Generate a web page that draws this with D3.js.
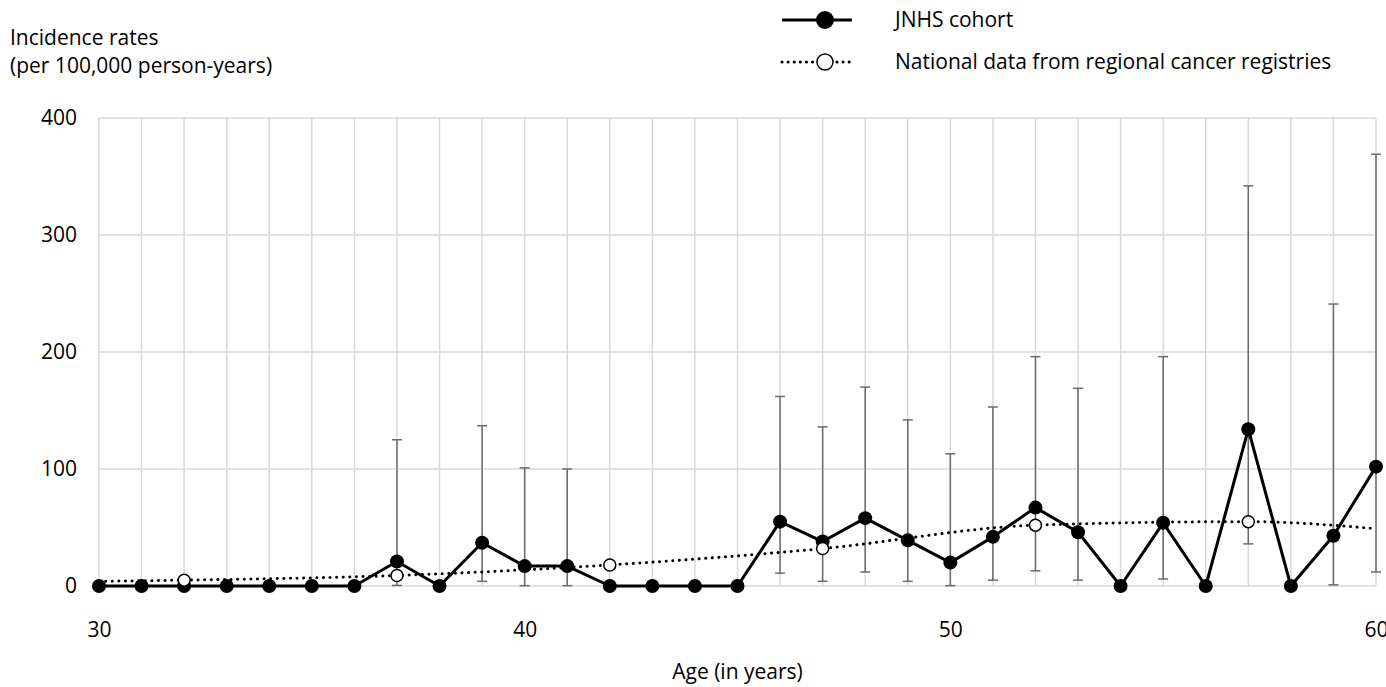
<!DOCTYPE html>
<html>
<head>
<meta charset="utf-8">
<script src="https://cdn.jsdelivr.net/npm/d3@7"></script>
<style>
  body { margin: 0; background: #fff; }
  svg { display: block; font-family: "Open Sans", "Noto Sans", sans-serif; }
</style>
</head>
<body>
<svg id="chart" width="1386" height="687"></svg>
<script>
// JNHS cohort, one point per age
const ages = d3.range(30, 61);
const jnhsRates = [0, 0, 0, 0, 0, 0, 0, 21, 0, 37, 17, 17, 0, 0, 0, 0,
                   55, 38, 58, 39, 20, 42, 67, 46, 0, 54, 0, 134, 0, 43, 102];
// 95% CI where the cohort had cases
const ciAges  = [37, 39, 40, 41, 46, 47, 48, 49, 50, 51, 52, 53, 55, 57, 59, 60];
const ciLower = [0.5, 4, 0.3, 0.3, 11, 4, 12, 4, 0.3, 5, 13, 5, 6, 36, 1, 12];
const ciUpper = [125, 137, 101, 100, 162, 136, 170, 142, 113, 153, 196, 169, 196, 342, 241, 369];
// national registry data (markers at the 5-year groups, line runs 30-60)
const natAges = [32, 37, 42, 47, 52, 57];
const natRates = [5, 9, 18, 32, 52, 55];
const natLineAges = [30, 32, 37, 42, 47, 52, 57, 60];
const natLineRates = [4, 5, 9, 18, 32, 52, 55, 49];

const yTicks = [0, 100, 200, 300, 400];
const xTicks = [30, 40, 50, 60];

const svg = d3.select('#chart');
const plotL = 99, plotR = 1376, plotT = 118, plotB = 586;
const fs = 21;

const x = d3.scaleLinear().domain([30, 60]).range([plotL, plotR]);
const y = d3.scaleLinear().domain([0, 400]).range([plotB, plotT]);

// grid
const grid = svg.append('g');
grid.selectAll('line.v').data(ages).enter().append('line')
    .attr('x1', d => x(d)).attr('x2', d => x(d))
    .attr('y1', plotT).attr('y2', plotB)
    .attr('stroke', '#d9d9d9').attr('stroke-width', 1.5);
grid.selectAll('line.h').data(yTicks).enter().append('line')
    .attr('x1', plotL).attr('x2', plotR)
    .attr('y1', d => y(d)).attr('y2', d => y(d))
    .attr('stroke', '#d9d9d9').attr('stroke-width', 1.5);

// axes labels
const yAxis = svg.append('g').attr('transform', `translate(${plotL - 22},0)`)
    .call(d3.axisLeft(y).tickValues(yTicks).tickSize(0).tickPadding(0));
yAxis.select('.domain').remove();
yAxis.selectAll('text').attr('font-size', fs).attr('fill', '#000')
    .attr('font-family', '"Open Sans", sans-serif');

const xAxis = svg.append('g').attr('transform', `translate(0,${plotB + 36})`)
    .call(d3.axisBottom(x).tickValues(xTicks).tickSize(0).tickPadding(0));
xAxis.select('.domain').remove();
xAxis.selectAll('text').attr('font-size', fs).attr('fill', '#000')
    .attr('font-family', '"Open Sans", sans-serif');

svg.append('text').attr('x', x(45)).attr('y', 679)
   .attr('text-anchor', 'middle').attr('font-size', fs)
   .text('Age (in years)');

svg.append('text').attr('x', 10).attr('y', 45).attr('font-size', fs)
   .text('Incidence rates');
svg.append('text').attr('x', 10).attr('y', 73).attr('font-size', fs)
   .text('(per 100,000 person-years)');

// error bars
const ci = ciAges.map((a, i) => ({ age: a, lo: ciLower[i], hi: ciUpper[i] }));
const eb = svg.append('g').attr('stroke', '#6b6b6b').attr('stroke-width', 1.5);
eb.selectAll('line.bar').data(ci).enter().append('line')
  .attr('x1', d => x(d.age)).attr('x2', d => x(d.age))
  .attr('y1', d => y(d.lo)).attr('y2', d => y(d.hi));
eb.selectAll('line.capT').data(ci).enter().append('line')
  .attr('x1', d => x(d.age) - 5).attr('x2', d => x(d.age) + 5)
  .attr('y1', d => y(d.hi)).attr('y2', d => y(d.hi));
eb.selectAll('line.capB').data(ci).enter().append('line')
  .attr('x1', d => x(d.age) - 5).attr('x2', d => x(d.age) + 5)
  .attr('y1', d => y(d.lo)).attr('y2', d => y(d.lo));

// JNHS line
const jnhs = ages.map((a, i) => ({ age: a, v: jnhsRates[i] }));
const line = d3.line().x(d => x(d.age)).y(d => y(d.v));
svg.append('path').datum(jnhs).attr('d', line)
   .attr('fill', 'none').attr('stroke', '#000').attr('stroke-width', 3)
   .attr('stroke-linejoin', 'round');
svg.selectAll('circle.jnhs').data(jnhs).enter().append('circle')
   .attr('cx', d => x(d.age)).attr('cy', d => y(d.v)).attr('r', 7)
   .attr('fill', '#000');

// national line
const natLine = natLineAges.map((a, i) => ({ age: a, v: natLineRates[i] }));
svg.append('path').datum(natLine)
   .attr('d', d3.line().curve(d3.curveMonotoneX).x(d => x(d.age)).y(d => y(d.v)))
   .attr('fill', 'none').attr('stroke', '#000').attr('stroke-width', 3)
   .attr('stroke-dasharray', '0.1 6.5').attr('stroke-linecap', 'round');
const nat = natAges.map((a, i) => ({ age: a, v: natRates[i] }));
svg.selectAll('circle.nat').data(nat).enter().append('circle')
   .attr('cx', d => x(d.age)).attr('cy', d => y(d.v)).attr('r', 6)
   .attr('fill', '#fff').attr('stroke', '#000').attr('stroke-width', 1.5);

// legend
const lg = svg.append('g');
lg.append('line').attr('x1', 782).attr('x2', 852).attr('y1', 20).attr('y2', 20)
  .attr('stroke', '#000').attr('stroke-width', 3);
lg.append('circle').attr('cx', 825).attr('cy', 20).attr('r', 9).attr('fill', '#000');
lg.append('text').attr('x', 895).attr('y', 27).attr('font-size', fs).text('JNHS cohort');
lg.append('line').attr('x1', 782).attr('x2', 852).attr('y1', 62).attr('y2', 62)
  .attr('stroke', '#000').attr('stroke-width', 3)
  .attr('stroke-dasharray', '0.1 6').attr('stroke-linecap', 'round');
lg.append('circle').attr('cx', 825).attr('cy', 62).attr('r', 8)
  .attr('fill', '#fff').attr('stroke', '#000').attr('stroke-width', 1.5);
lg.append('text').attr('x', 895).attr('y', 69).attr('font-size', fs)
  .text('National data from regional cancer registries');
</script>
</body>
</html>
